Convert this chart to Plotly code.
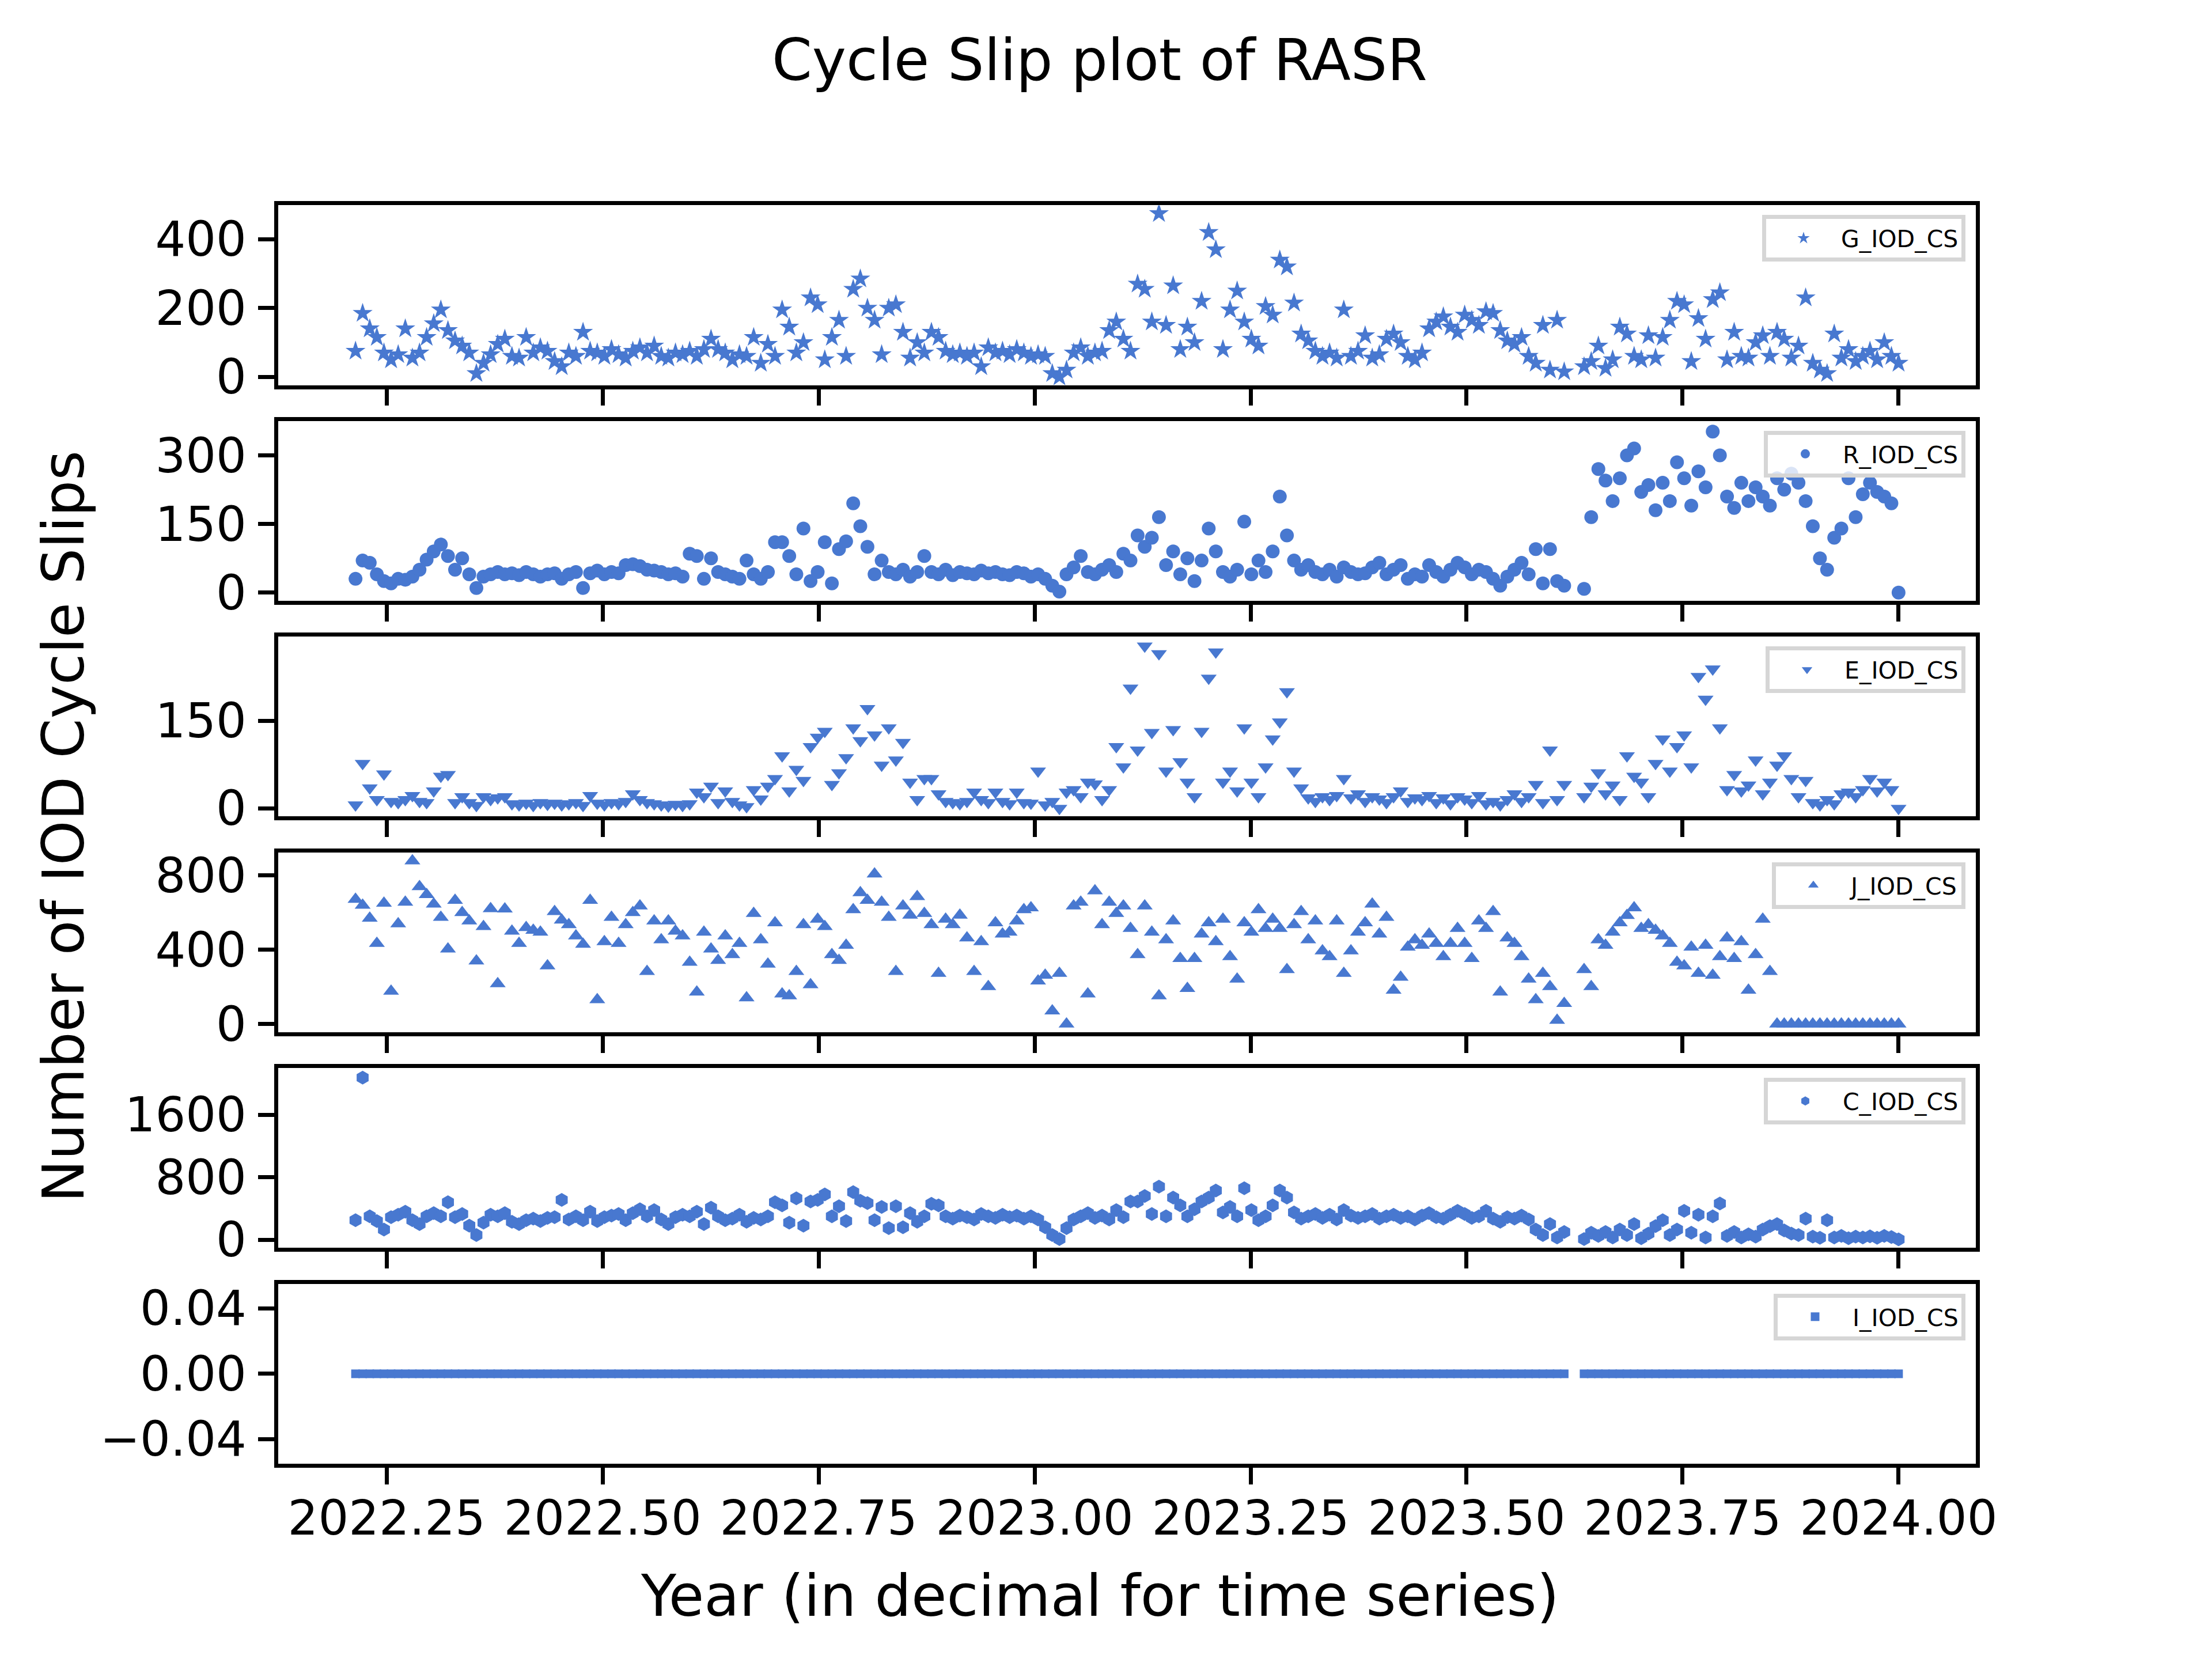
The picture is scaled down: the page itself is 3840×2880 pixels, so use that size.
import numpy as np
import plotly.graph_objects as go

# 1. Data (one value every ~3 days, gap in Aug 2023)
PRE_START, PRE_END = 2022.214, 2023.613
POST_START, POST_END = 2023.636, 2024.000

G_PRE = [75, 185, 140, 115, 70, 50, 65, 140, 55, 70,
         115, 155, 195, 135, 105, 90, 70, 10, 40, 65,
         95, 110, 60, 55, 115, 70, 85, 75, 45, 30,
         70, 60, 130, 75, 70, 60, 80, 65, 55, 75,
         85, 70, 90, 60, 55, 70, 65, 75, 60, 80,
         110, 80, 70, 50, 65, 60, 115, 40, 95, 60,
         195, 145, 70, 100, 230, 210, 50, 115, 165, 60,
         255, 285, 200, 165, 65, 200, 210, 130, 55, 100,
         70, 130, 115, 75, 65, 70, 60, 70, 30, 85,
         70, 75, 65, 80, 70, 60, 65, 60, 10, 0,
         20, 70, 85, 60, 70, 75, 135, 160, 110, 75,
         270, 255, 160, 475, 150, 265, 80, 145, 100, 220,
         420, 370, 80, 195, 250, 160, 110, 90, 205, 180,
         340, 320, 215, 125, 105, 75, 60, 70, 55, 195,
         60, 75, 120, 55, 65, 110, 125, 100, 60, 50,
         70, 140, 160, 175, 145, 130, 180, 165, 150, 190,
         185, 135, 105, 95, 115, 60, 40, 150, 20, 165,
         15]
G_POST = [30, 45, 90, 25, 50, 145, 125, 60, 50, 120,
          55, 115, 165, 220, 210, 45, 170, 110, 225, 245,
          50, 130, 60, 55, 100, 120, 60, 130, 110, 55,
          90, 230, 40, 20, 10, 125, 55, 80, 45, 60,
          75, 50, 100, 60, 40]

R_PRE = [30, 70, 65, 40, 25, 20, 30, 28, 35, 50,
         72, 90, 105, 80, 50, 75, 40, 10, 35, 40,
         45, 40, 42, 38, 45, 40, 35, 40, 42, 30,
         40, 45, 10, 42, 48, 40, 45, 42, 60, 62,
         58, 50, 48, 45, 40, 42, 35, 85, 80, 30,
         75, 45, 40, 35, 30, 70, 40, 30, 45, 110,
         110, 80, 40, 140, 25, 45, 110, 20, 95, 112,
         195, 145, 100, 40, 70, 45, 40, 50, 35, 45,
         80, 45, 40, 50, 38, 45, 42, 40, 48, 42,
         45, 40, 38, 45, 42, 35, 40, 30, 15, 2,
         40, 55, 80, 45, 40, 50, 60, 45, 85, 70,
         125, 100, 120, 165, 60, 90, 40, 75, 25, 70,
         140, 90, 45, 35, 50, 155, 40, 70, 45, 90,
         210, 125, 70, 50, 60, 45, 40, 50, 35, 55,
         45, 40, 42, 55, 65, 40, 50, 60, 30, 40,
         35, 60, 45, 35, 50, 65, 55, 40, 50, 45,
         30, 15, 35, 50, 65, 40, 95, 20, 95, 25,
         15]
R_POST = [8, 165, 270, 245, 200, 250, 300, 315, 220, 235,
          180, 240, 200, 285, 250, 190, 265, 230, 352, 300,
          210, 185, 240, 200, 230, 210, 190, 250, 225, 260,
          240, 200, 145, 75, 50, 120, 140, 250, 165, 215,
          240, 220, 210, 195, 0]

E_PRE = [6, 77, 35, 15, 59, 12, 10, 15, 22, 12,
         10, 30, 55, 58, 10, 20, 10, 5, 20, 15,
         18, 20, 8, 6, 9, 5, 10, 7, 9, 6,
         8, 10, 5, 22, 9, 6, 10, 8, 12, 25,
         15, 10, 8, 6, 4, 7, 5, 8, 28, 20,
         38, 10, 30, 12, 6, 3, 32, 16, 38, 51,
         90, 30, 67, 48, 106, 122, 132, 41, 61, 87,
         138, 116, 171, 126, 74, 138, 83, 113, 45, 15,
         51, 51, 25, 12, 10, 8, 12, 28, 15, 10,
         28, 12, 8, 28, 10, 9, 64, 6, 12, 0,
         28, 32, 20, 45, 42, 15, 32, 106, 71, 206,
         100, 278, 130, 265, 64, 135, 80, 45, 20, 132,
         223, 268, 45, 64, 30, 138, 45, 20, 71, 119,
         148, 200, 64, 35, 18, 12, 20, 15, 22, 51,
         18, 25, 12, 20, 16, 10, 20, 30, 12, 18,
         15, 22, 10, 18, 8, 20, 16, 10, 22, 8,
         12, 6, 15, 25, 12, 20, 41, 10, 100, 15,
         41]
E_POST = [20, 38, 61, 25, 40, 15, 90, 55, 45, 20,
          77, 119, 64, 106, 126, 71, 226, 187, 239, 138,
          32, 58, 30, 40, 83, 25, 45, 74, 90, 51,
          20, 48, 10, 6, 15, 8, 25, 28, 20, 32,
          51, 30, 45, 32, 0]

J_PRE = [672, 640, 570, 434, 651, 177, 540, 656, 879, 740,
         697, 646, 575, 404, 666, 600, 555, 340, 525, 621,
         217, 620, 500, 434, 520, 505, 495, 313, 606, 560,
         535, 475, 430, 666, 131, 444, 575, 434, 535, 600,
         636, 283, 555, 454, 555, 500, 475, 333, 172, 495,
         404, 343, 475, 374, 434, 141, 596, 454, 323, 545,
         162, 152, 283, 535, 212, 565, 525, 374, 343, 424,
         616, 707, 666, 808, 656, 575, 283, 636, 586, 686,
         596, 535, 273, 565, 535, 586, 464, 283, 444, 202,
         545, 485, 495, 555, 616, 626, 232, 263, 71, 273,
         0, 636, 656, 162, 717, 535, 656, 596, 636, 515,
         374, 636, 495, 152, 454, 555, 353, 192, 353, 485,
         545, 444, 565, 363, 242, 545, 495, 616, 515, 565,
         515, 293, 535, 606, 454, 555, 394, 363, 555, 273,
         394, 495, 545, 646, 485, 575, 182, 252, 414, 454,
         424, 485, 434, 363, 434, 515, 434, 353, 555, 515,
         606, 172, 464, 434, 363, 242, 131, 273, 202, 20,
         111]
J_POST = [293, 202, 454, 424, 495, 545, 585, 626, 515, 535,
          505, 475, 434, 333, 313, 414, 273, 424, 263, 363,
          464, 353, 444, 182, 374, 565, 283, 0, 0, 0,
          0, 0, 0, 0, 0, 0, 0, 0, 0, 0,
          0, 0, 0, 0, 0]

C_PRE = [250, 2074, 300, 240, 130, 290, 320, 360, 250, 200,
         300, 340, 300, 480, 290, 330, 180, 60, 220, 320,
         300, 340, 230, 200, 250, 270, 240, 280, 290, 510,
         260, 300, 250, 360, 240, 290, 310, 330, 250, 340,
         390, 300, 380, 260, 200, 290, 320, 300, 360, 200,
         410, 300, 250, 270, 320, 230, 280, 260, 300, 480,
         440, 220, 530, 180, 490, 510, 580, 300, 430, 240,
         610, 500, 470, 250, 420, 150, 430, 160, 340, 230,
         300, 460, 440, 300, 270, 310, 290, 260, 330, 300,
         280, 320, 290, 310, 270, 300, 260, 160, 60, 10,
         150, 260, 300, 340, 280, 310, 260, 380, 290, 490,
         490, 560, 330, 680, 300, 540, 440, 300, 390, 490,
         540, 630, 350, 420, 300, 660, 380, 250, 300, 440,
         630, 540, 350, 270, 300, 330, 280, 320, 260, 380,
         310, 280, 300, 330, 270, 300, 320, 280, 300, 260,
         310, 340, 290, 270, 320, 370, 330, 280, 300, 370,
         270, 230, 290, 270, 310, 260, 130, 60, 200, 30,
         100]
C_POST = [10, 90, 50, 100, 30, 130, 60, 200, 20, 80,
          175, 250, 60, 130, 370, 90, 320, 30, 300, 465,
          50, 100, 30, 70, 40, 130, 175, 200, 120, 80,
          60, 270, 40, 25, 250, 30, 50, 20, 40, 30,
          45, 25, 50, 35, 5]

# IRNSS: every value in the picture is zero
I_PRE = [0] * 171
I_POST = [0] * 45

X_TICKS = [2022.25, 2022.50, 2022.75, 2023.00, 2023.25, 2023.50, 2023.75, 2024.00]
X_TICK_TEXT = ['2022.25', '2022.50', '2022.75', '2023.00', '2023.25', '2023.50', '2023.75', '2024.00']

# name, pre, post, symbol, size, y-range, y ticks, y tick text
series = [
    ('G_IOD_CS', G_PRE, G_POST, 'star', 26, [-23.75, 498.75], [0, 200, 400], ['0', '200', '400']),
    ('R_IOD_CS', R_PRE, R_POST, 'circle', 24, [-18, 375], [0, 150, 300], ['0', '150', '300']),
    ('E_IOD_CS', E_PRE, E_POST, 'triangle-down', 24, [-14, 294], [0, 150], ['0', '150']),
    ('J_IOD_CS', J_PRE, J_POST, 'triangle-up', 24, [-44, 924], [0, 400, 800], ['0', '400', '800']),
    ('C_IOD_CS', C_PRE, C_POST, 'hexagon', 24, [-104.5, 2194.5], [0, 800, 1600], ['0', '800', '1600']),
    ('I_IOD_CS', I_PRE, I_POST, 'square', 15, [-0.055, 0.055], [-0.04, 0, 0.04], ['\u22120.04', '0.00', '0.04']),
]

COR = '#4878d0'
FONTE = 'DejaVu Sans'
W, H = 3840, 2880


def fx(px):
    return px / W


def fy(py):
    return 1 - py / H


# 2. Subplot geometry (matplotlib defaults: left .125, right .9, top .88, hspace .2)
ESQ, DIR = 480, 3456
TOPO0, ALT, PASSO = 345.6, 316.8, 380.16

fig = go.Figure()
layout = {}

for i, (nome, pre, pos, simbolo, tam, yr, yt, ytt) in enumerate(series):
    n = '' if i == 0 else str(i + 1)
    topo = TOPO0 + i * PASSO
    x = np.concatenate([np.linspace(PRE_START, PRE_END, len(pre)),
                        np.linspace(POST_START, POST_END, len(pos))])
    y = list(pre) + list(pos)

    fig.add_trace(go.Scatter(
        x=x, y=y, mode='markers', name=nome, showlegend=True,
        marker=dict(symbol=simbolo, size=tam, color=COR, line=dict(width=0)),
        xaxis='x' + n, yaxis='y' + n, legend='legend' + n
    ))

    layout['xaxis' + n] = dict(
        domain=[fx(ESQ), fx(DIR)], anchor='y' + n, range=[2022.1247, 2024.0893],
        tickvals=X_TICKS, ticktext=X_TICK_TEXT, showticklabels=(i == 5),
        ticks='outside', ticklen=29, tickwidth=6.5, tickcolor='black',
        showline=True, linecolor='black', linewidth=6.5, mirror=True,
        showgrid=False, zeroline=False,
        tickfont=dict(family=FONTE, size=83, color='black'), ticklabelstandoff=-12
    )
    layout['yaxis' + n] = dict(
        domain=[fy(topo + ALT), fy(topo)], anchor='x' + n, range=yr,
        tickvals=yt, ticktext=ytt,
        ticks='outside', ticklen=29, tickwidth=6.5, tickcolor='black',
        showline=True, linecolor='black', linewidth=6.5, mirror=True,
        showgrid=False, zeroline=False,
        tickfont=dict(family=FONTE, size=83, color='black'), ticklabelstandoff=3
    )
    layout['legend' + n] = dict(
        x=fx(DIR - 18), y=fy(topo + 17), xanchor='right', yanchor='top',
        bgcolor='rgba(255,255,255,0.8)', bordercolor='#d6d6d6', borderwidth=7,
        font=dict(family=FONTE, size=41, color='black'), itemwidth=120
    )

fig.update_layout(**layout)

# 3. Title and shared axis labels
fig.update_layout(
    width=W, height=H, showlegend=True,
    margin=dict(l=0, r=0, t=0, b=0),
    paper_bgcolor='white', plot_bgcolor='white',
    font=dict(family=FONTE, color='black'),
    annotations=[
        dict(text='Cycle Slip plot of RASR', x=fx(1920), y=fy(90), xref='paper', yref='paper',
             xanchor='center', yanchor='middle', showarrow=False,
             font=dict(family=FONTE, size=100, color='black')),
        dict(text='Year (in decimal for time series)', x=fx(1920), y=fy(2796), xref='paper', yref='paper',
             xanchor='center', yanchor='middle', showarrow=False,
             font=dict(family=FONTE, size=100, color='black')),
        dict(text='Number of IOD Cycle Slips', x=fx(104), y=fy(1440), xref='paper', yref='paper',
             xanchor='center', yanchor='middle', showarrow=False, textangle=-90,
             font=dict(family=FONTE, size=99, color='black')),
    ]
)

fig.write_html("out.html")
